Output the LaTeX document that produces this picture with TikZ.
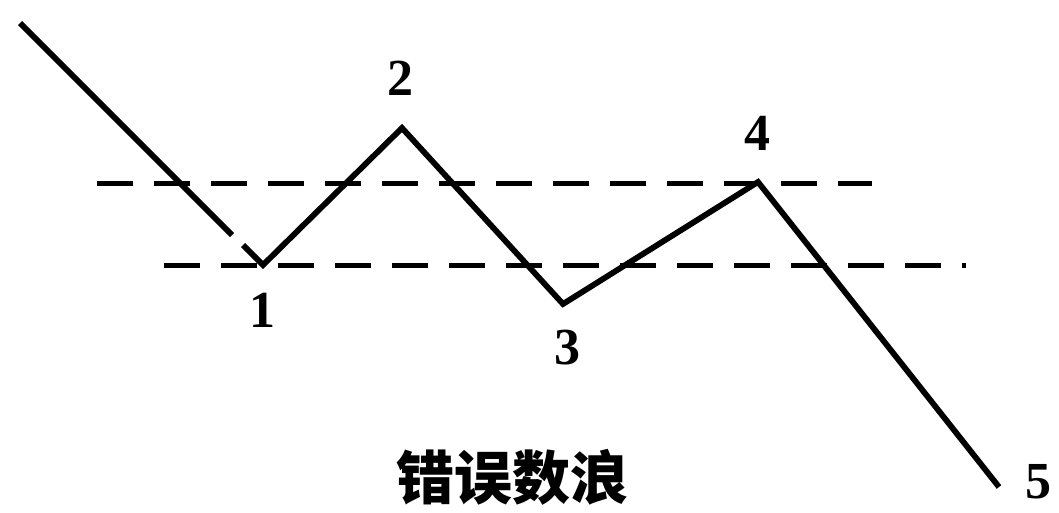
\documentclass[tikz,border=0pt]{standalone}
\usepackage{fontspec}
\setmainfont{Liberation Serif}
\newfontfamily\cjk{Noto Sans CJK SC}
\begin{document}
\begin{tikzpicture}[x=1pt,y=-1pt,
  wave/.style={line width=5.8pt,line join=miter,line cap=butt},
  level/.style={line width=5pt,dash pattern=on 36pt off 21pt},
  num/.style={font=\fontsize{52}{52}\selectfont\bfseries,inner sep=0pt}]
\useasboundingbox (0,0) rectangle (1059,512);
% levels
\coordinate (u0) at (97,183);
\coordinate (u1) at (872,183);
\coordinate (l0) at (164,265);
\coordinate (l1) at (966,265);
\draw[level] (u0) -- (u1);
\draw[level] (l0) -- (l1);
% wave points
\coordinate (s) at (20,23);
\coordinate (g0) at (232,235);
\coordinate (g1) at (243,245);
\coordinate (p1) at (263,265);
\coordinate (p2) at (402,128);
\coordinate (p3) at (563,304);
\coordinate (p4) at (758,182);
\coordinate (p5) at (999,487);
\draw[wave] (s) -- (g0);
\draw[wave] (g1) -- (p1) -- (p2) -- (p3) -- (p4) -- (p5);
% labels
\node[num] (n1) at (262,310) {1};
\node[num] (n2) at (400,78) {2};
\node[num] (n3) at (567,348) {3};
\node[num] (n4) at (757,133) {4};
\node[num] (n5) at (1038,482) {5};
\node[inner sep=0pt,font=\cjk\fontsize{58}{58}\selectfont\bfseries] (t) at (512,477) {错误数浪};
\end{tikzpicture}
\end{document}
